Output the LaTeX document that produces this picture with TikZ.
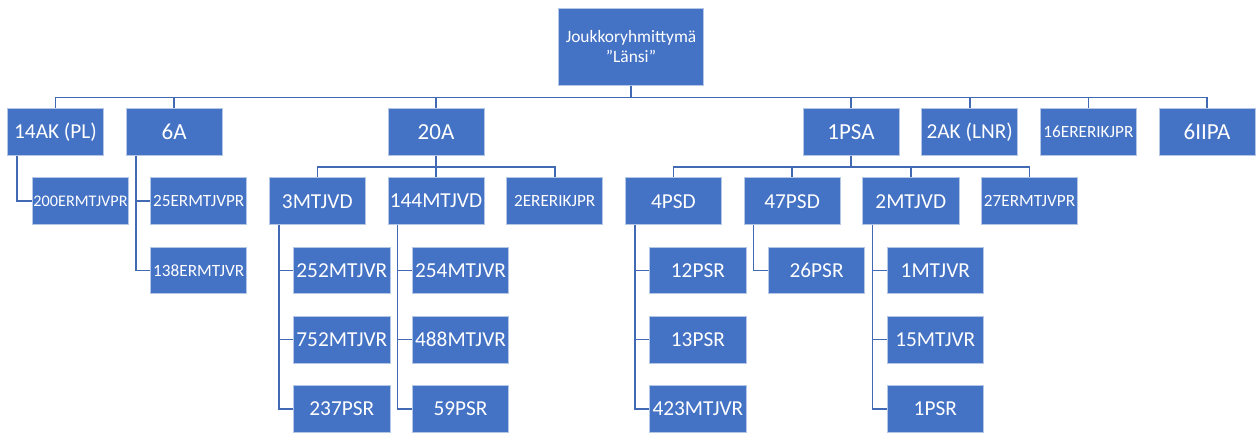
\documentclass[tikz,border=0pt]{standalone}
\usepackage{fontspec}
\setmainfont{Carlito}
\usetikzlibrary{positioning}
\definecolor{unitblue}{HTML}{4472C4}
\definecolor{lineblue}{HTML}{4169B4}

\begin{document}
\begin{tikzpicture}[
    x=1pt, y=-1pt,
    node distance=21.7pt,
    every node/.style={text=white, align=center},
    unit/.style={rectangle, draw=white!60!unitblue, line width=0.8pt, fill=unitblue,
                 minimum width=96.2pt, minimum height=46.7pt, inner sep=1pt,
                 font=\fontsize{21.3}{25}\selectfont},
    big/.style={font=\fontsize{23}{27}\selectfont},
    long/.style={font=\fontsize{17.2}{20}\selectfont},
    link/.style={draw=lineblue, line width=1.6pt}
]
\useasboundingbox (0,0) rectangle (1258,433);

\node[unit, minimum width=145.2pt, minimum height=77.2pt,
      font=\fontsize{17.4}{20}\selectfont] (top) at (631,47) {Joukkoryhmittymä\\”Länsi”};

% first level
\node[unit] (ak14) at (55.5,132) {14AK (PL)};
\node[unit, big, right=of ak14] (a6) {6A};
\node[unit, big] (a20) at (436,132) {20A};
\node[unit, big] (psa1) at (851,132) {1PSA};
\node[unit, right=of psa1] (ak2) {2AK (LNR)};
\node[unit, long, right=of ak2] (jpr16) {16ERERIKJPR};
\node[unit, big, right=of jpr16] (ipa6) {6IIPA};

% second level
\node[unit, font=\fontsize{16.2}{19}\selectfont, below=of ak14, xshift=25pt] (vpr200) {200ERMTJVPR};
\node[unit, long, below=of a6, xshift=24.5pt] (vpr25) {25ERMTJVPR};
\node[unit, long, below=of vpr25] (vr138) {138ERMTJVR};
\node[unit, below=of a20] (vd144) {144MTJVD};
\node[unit, left=of vd144] (vd3) {3MTJVD};
\node[unit, long, right=of vd144] (jpr2) {2ERERIKJPR};
\node[unit, right=of jpr2] (psd4) {4PSD};
\node[unit, right=of psd4] (psd47) {47PSD};
\node[unit, right=of psd47] (vd2) {2MTJVD};
\node[unit, long, right=of vd2] (vpr27) {27ERMTJVPR};

% third level
\node[unit, below=of vd3, xshift=24.5pt] (vr252) {252MTJVR};
\node[unit, below=of vr252] (vr752) {752MTJVR};
\node[unit, below=of vr752] (psr237) {237PSR};
\node[unit, below=of vd144, xshift=24.5pt] (vr254) {254MTJVR};
\node[unit, below=of vr254] (vr488) {488MTJVR};
\node[unit, below=of vr488] (psr59) {59PSR};
\node[unit, below=of psd4, xshift=24.5pt] (psr12) {12PSR};
\node[unit, below=of psr12] (psr13) {13PSR};
\node[unit, below=of psr13] (vr423) {423MTJVR};
\node[unit, below=of psd47, xshift=24.5pt] (psr26) {26PSR};
\node[unit, below=of vd2, xshift=24.5pt] (vr1) {1MTJVR};
\node[unit, below=of vr1] (vr15) {15MTJVR};
\node[unit, below=of vr15] (psr1) {1PSR};

% top bus
\draw[link] (top.south) -- ++(0,11.7) -| (ak14.north);
\draw[link] (top.south) -- ++(0,11.7) -| (a6.north);
\draw[link] (top.south) -- ++(0,11.7) -| (a20.north);
\draw[link] (top.south) -- ++(0,11.7) -| (psa1.north);
\draw[link] (top.south) -- ++(0,11.7) -| (ak2.north);
\draw[link] (top.south) -- ++(0,11.7) -| (jpr16.north);
\draw[link] (top.south) -- ++(0,11.7) -| (ipa6.north);

% 20A and 1PSA buses
\draw[link] (a20.south) -- ++(0,11) -| (vd3.north);
\draw[link] (a20.south) -- ++(0,11) -| (vd144.north);
\draw[link] (a20.south) -- ++(0,11) -| (jpr2.north);
\draw[link] (psa1.south) -- ++(0,11) -| (psd4.north);
\draw[link] (psa1.south) -- ++(0,11) -| (psd47.north);
\draw[link] (psa1.south) -- ++(0,11) -| (vd2.north);
\draw[link] (psa1.south) -- ++(0,11) -| (vpr27.north);

% hanging lists
\draw[link] ([xshift=10pt]ak14.south west) |- (vpr200.west);
\draw[link] ([xshift=10pt]a6.south west) |- (vpr25.west);
\draw[link] ([xshift=10pt]a6.south west) |- (vr138.west);
\draw[link] ([xshift=10pt]vd3.south west) |- (vr252.west);
\draw[link] ([xshift=10pt]vd3.south west) |- (vr752.west);
\draw[link] ([xshift=10pt]vd3.south west) |- (psr237.west);
\draw[link] ([xshift=10pt]vd144.south west) |- (vr254.west);
\draw[link] ([xshift=10pt]vd144.south west) |- (vr488.west);
\draw[link] ([xshift=10pt]vd144.south west) |- (psr59.west);
\draw[link] ([xshift=10pt]psd4.south west) |- (psr12.west);
\draw[link] ([xshift=10pt]psd4.south west) |- (psr13.west);
\draw[link] ([xshift=10pt]psd4.south west) |- (vr423.west);
\draw[link] ([xshift=10pt]psd47.south west) |- (psr26.west);
\draw[link] ([xshift=10pt]vd2.south west) |- (vr1.west);
\draw[link] ([xshift=10pt]vd2.south west) |- (vr15.west);
\draw[link] ([xshift=10pt]vd2.south west) |- (psr1.west);

\end{tikzpicture}
\end{document}
